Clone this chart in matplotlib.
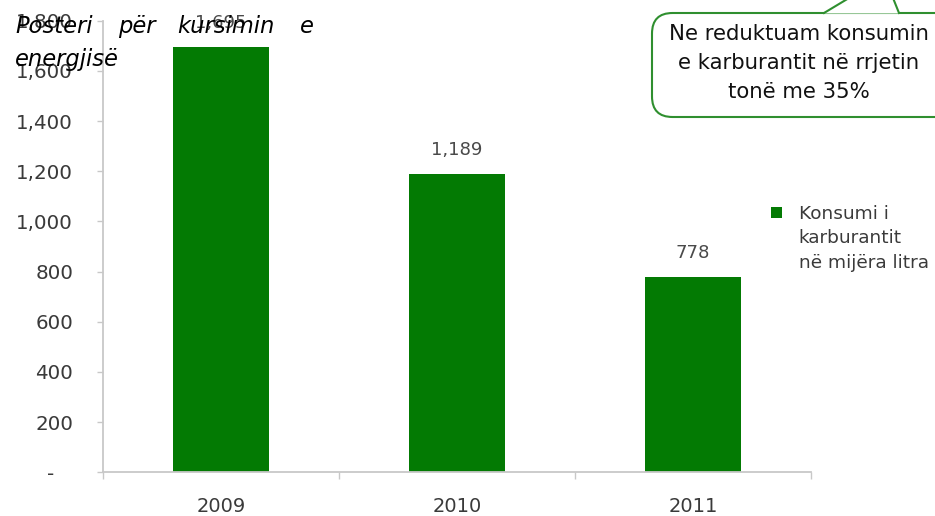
import matplotlib
matplotlib.use("Agg")
from matplotlib import pyplot as plt
from matplotlib.patches import FancyBboxPatch, Polygon, Rectangle
from matplotlib.lines import Line2D
from matplotlib.legend_handler import HandlerPatch, update_from_first_child

# Fuel consumption per year (thousand litres)
years = ["2009", "2010", "2011"]
consumption = [1695, 1189, 778]
yticks = [0, 200, 400, 600, 800, 1000, 1200, 1400, 1600, 1800]
ytick_labels = ["-   " if v == 0 else f"{v:,}" for v in yticks]

title_words = ["Posteri", "për", "kursimin", "e"]
title_line2 = "energjisë"
bubble_text = "Ne reduktuam konsumin\ne karburantit në rrjetin\ntonë me 35%"
legend_label = "Konsumi i\nkarburantit\nnë mijëra litra"

bar_color = "#037a03"
W, H = 935, 516

plt.rcParams["font.family"] = "DejaVu Sans"
fig = plt.figure(figsize=(W / 100, H / 100), dpi=100)
fig.patch.set_facecolor("white")


def fx(x):
    return x / W


def fy(y):
    return 1 - y / H


ax = fig.add_axes([fx(103), fy(472.3), fx(811) - fx(103), fy(20.7) - fy(472.3)])
x = range(len(years))
bars = ax.bar(x, consumption, width=0.405, color=bar_color, zorder=2,
              label=legend_label)

ax.set_xlim(-0.5, len(years) - 0.5)
ax.set_ylim(0, 1800)
ax.set_yticks(yticks)
ax.set_yticklabels(ytick_labels)
ax.set_xticks(list(x))
ax.set_xticklabels(years)
ax.set_xticks([i - 0.5 for i in range(len(years) + 1)], minor=True)

for side in ["top", "right"]:
    ax.spines[side].set_visible(False)
for side in ["left", "bottom"]:
    ax.spines[side].set_color("#c8c8c8")
    ax.spines[side].set_linewidth(1.3)

ax.tick_params(axis="y", which="major", length=4.5, width=1, color="#c8c8c8",
               labelsize=14.3, labelcolor="#3a3a3a", pad=17)
ax.tick_params(axis="x", which="major", length=0, labelsize=14,
               labelcolor="#3a3a3a", pad=17.5)
ax.tick_params(axis="x", which="minor", length=5, width=1, color="#c8c8c8")

# value labels above the bars
for rect, v in zip(bars, consumption):
    ax.annotate(f"{v:,}", (rect.get_x() + rect.get_width() / 2, v),
                xytext=(0, 11), textcoords="offset points", ha="center",
                va="bottom", fontsize=13, color="#4a4a4a", zorder=1)


# legend square sits next to the first line of the label
def top_square(legend, orig_handle, xdescent, ydescent, width, height, fontsize):
    s = 0.6 * fontsize
    return Rectangle((-xdescent, -ydescent + (height - s) / 2 + 1.4 * fontsize), s, s)


leg = ax.legend(loc="upper left", bbox_to_anchor=(fx(771), fy(205)),
                bbox_transform=fig.transFigure, frameon=False, fontsize=13.3,
                handlelength=0.6, handleheight=0.6, handletextpad=0.9,
                labelcolor="#3a3a3a", borderaxespad=0, borderpad=0,
                handler_map={bars: HandlerPatch(patch_func=top_square,
                                                update_func=update_from_first_child)})
for t in leg.get_texts():
    t.set_linespacing(1.45)

# justified title over the top left corner
word_x = [15, 118, 177, 300]
for w, wx in zip(title_words, word_x):
    fig.text(fx(wx), fy(33), w, fontsize=16.3, style="italic", color="black",
             ha="left", va="baseline", zorder=5)
fig.text(fx(15), fy(66), title_line2, fontsize=16.3, style="italic",
         color="black", ha="left", va="baseline", zorder=5)

# speech bubble with a tail going up off the top edge
green = "#2f8f2f"
box = FancyBboxPatch((fx(652), fy(117)), fx(975) - fx(652), fy(13) - fy(117),
                     boxstyle="round,pad=0,rounding_size=0.022",
                     transform=fig.transFigure, facecolor="white",
                     edgecolor=green, linewidth=1.5, zorder=6,
                     mutation_aspect=W / H)
fig.patches.append(box)
tail = Polygon([(fx(824), fy(13.5)), (fx(849), fy(-2)), (fx(893), fy(-2)),
                (fx(899), fy(13.5))], closed=True, transform=fig.transFigure,
               facecolor="white", edgecolor="none", zorder=7)
fig.patches.append(tail)
fig.lines.append(Line2D([fx(824), fx(849)], [fy(13), fy(-2)],
                        transform=fig.transFigure, color=green, lw=1.5, zorder=8))
fig.lines.append(Line2D([fx(899), fx(893)], [fy(13), fy(-2)],
                        transform=fig.transFigure, color=green, lw=1.5, zorder=8))
fig.text(fx(799), fy(63), bubble_text, fontsize=15.3, color="#111111",
         ha="center", va="center", linespacing=1.55, zorder=9)

fig.savefig("out.png", dpi=100)
